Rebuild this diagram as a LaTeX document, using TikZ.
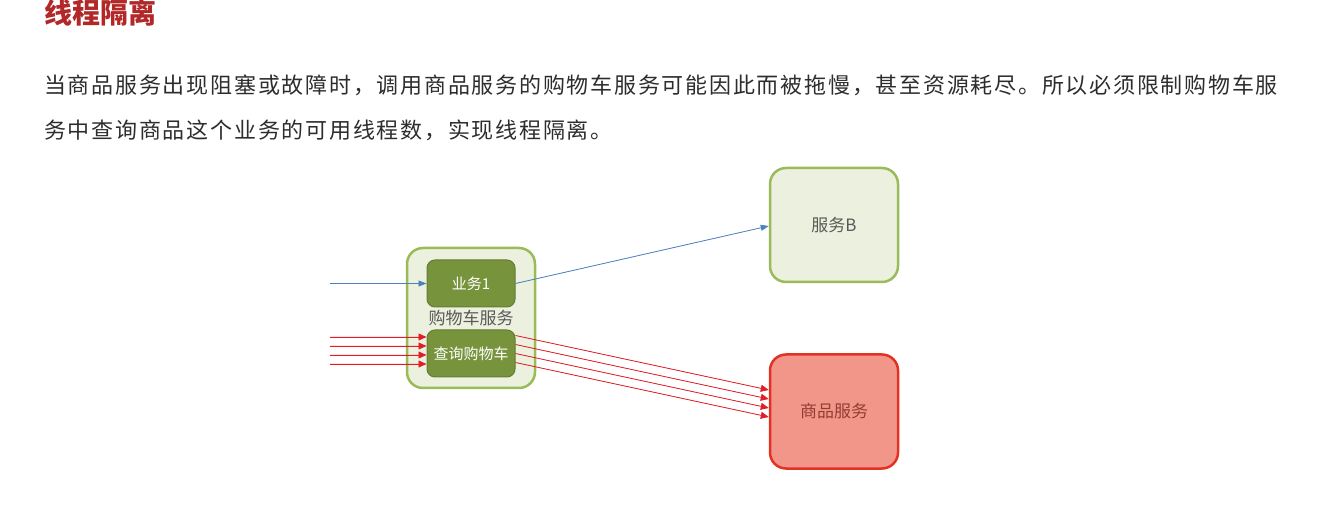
\documentclass[tikz,border=0pt]{standalone}
\usepackage{fontspec}
\setmainfont{Noto Sans CJK SC}
\usepackage{xcolor}
\usetikzlibrary{arrows.meta}

\definecolor{titlered}{RGB}{178,40,40}
\definecolor{bodygray}{RGB}{45,45,45}
\definecolor{lightgreen}{RGB}{235,241,222}
\definecolor{olive}{RGB}{155,187,89}
\definecolor{darkolive}{RGB}{119,147,60}
\definecolor{oliveedge}{RGB}{100,125,50}
\definecolor{callblue}{RGB}{79,129,189}
\definecolor{callred}{RGB}{225,30,40}
\definecolor{salmon}{RGB}{242,150,138}
\definecolor{salmonedge}{RGB}{225,50,35}
\definecolor{labelgray}{RGB}{89,89,89}
\definecolor{goodstext}{RGB}{150,60,50}

\begin{document}
\begin{tikzpicture}[x=1pt,y=-1pt,
    service/.style={draw=olive, line width=2.5pt, fill=lightgreen, rounded corners=16pt,
      minimum width=128pt, minimum height=114pt, inner sep=0pt,
      text=labelgray, font=\fontsize{17}{19}\selectfont},
    task/.style={draw=oliveedge, line width=1pt, fill=darkolive, rounded corners=8pt,
      minimum width=88pt, minimum height=47pt, inner sep=0pt,
      text=white, font=\fontsize{15}{17}\selectfont},
    bluecall/.style={-{Triangle[length=8pt,width=6pt]}, draw=callblue, fill=callblue, line width=0.8pt},
    redcall/.style={-{Triangle[length=8pt,width=7pt]}, draw=callred, fill=callred, line width=0.8pt},
    para/.style={anchor=west, inner sep=0pt, text=bodygray,
      font=\fontsize{22}{26}\selectfont\addfontfeature{LetterSpace=8}}]
  \useasboundingbox (0,0) rectangle (1318,521);
  % Title and text
  \node[anchor=west, inner sep=0pt, text=titlered, font=\fontsize{28}{30}\selectfont\bfseries]
    (title) at (44,13) {线程隔离};
  \node[para] (line1) at (44,85) {当商品服务出现阻塞或故障时，调用商品服务的购物车服务可能因此而被拖慢，甚至资源耗尽。所以必须限制购物车服};
  \node[para] (line2) at (44,130) {务中查询商品这个业务的可用线程数，实现线程隔离。};
  % Services
  \node[service, minimum height=140pt] (cart) at (471,318) {};
  \node[task] (biz1) at (471,283.5) {业务1};
  \node[task] (query) at (471,353.5) {查询购物车};
  \node[text=labelgray, font=\fontsize{17}{19}\selectfont, inner sep=0pt] (cartlabel) at (471,318) {购物车服务};
  \node[service] (svcB) at (834,225) {服务B};
  \node[service, draw=salmonedge, fill=salmon, text=goodstext] (goods) at (834,411.5) {商品服务};
  % Calls
  \coordinate (in0) at (330,283.5);
  \draw[bluecall] (in0) -- (biz1.west);
  \draw[bluecall] (biz1.east) -- ([yshift=-1pt]svcB.west);
  \foreach \y [count=\i] in {337,346,355,364} {
    \coordinate (red\i) at (330,\y);
    \draw[redcall] (red\i) -- (red\i -| query.west);
  }
  \foreach \a/\b in {18/21.5,9/12.5,0/3.5,-9/-5.5}
    \draw[redcall] ([yshift=\a pt]query.east) -- ([yshift=\b pt]goods.west);
\end{tikzpicture}
\end{document}
